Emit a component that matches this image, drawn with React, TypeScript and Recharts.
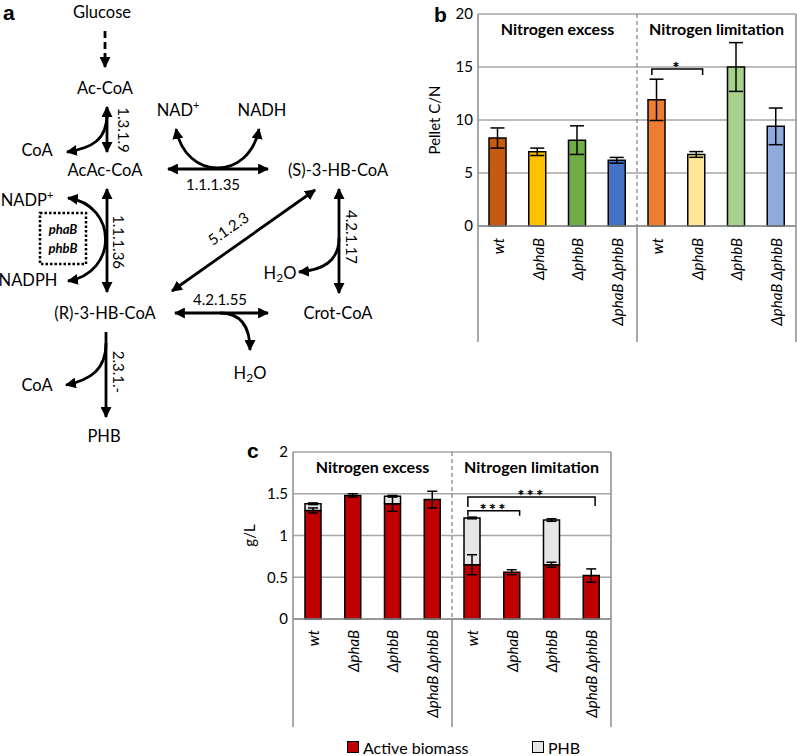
import React from 'react';
import { BarChart, Bar, XAxis, YAxis, CartesianGrid, ErrorBar, Cell, ReferenceLine, Legend } from 'recharts';

const FONT = 'Lato, "Liberation Sans", sans-serif';
const GRID = '#a6a6a6';
const AXIS = '#8c8c8c';

// ---- shared categories ----
const CATEGORY_KEYS = ['NE_wt', 'NE_phaB', 'NE_phbB', 'NE_dd', 'NL_wt', 'NL_phaB', 'NL_phbB', 'NL_dd'];
const STRAINS = ['wt', 'ΔphaB', 'ΔphbB', 'ΔphaB ΔphbB'];
const CATEGORY_LABELS = [...STRAINS, ...STRAINS];
const GROUP_NAMES = ['Nitrogen excess', 'Nitrogen limitation'];

// ---- panel b: pellet C/N ----
const CN_VALUES = [8.3, 7.0, 8.1, 6.2, 11.9, 6.75, 15.0, 9.4];
const CN_ERRORS = [0.95, 0.35, 1.35, 0.27, 1.95, 0.27, 2.3, 1.73];
const CN_COLORS = ['#C55A11', '#FFC000', '#70AD47', '#4472C4', '#ED7D31', '#FFE699', '#A9D18E', '#8FAADC'];
const CN_TICKS = [0, 5, 10, 15, 20];
const CN_BRACKET_Y = 14.8;

// ---- panel c: g/L ----
const ACTIVE_BIOMASS = [1.3, 1.48, 1.38, 1.43, 0.65, 0.56, 0.65, 0.52];
const ACTIVE_ERRORS = [0.03, 0.02, 0.09, 0.1, 0.12, 0.03, 0.03, 0.08];
const PHB = [0.08, 0, 0.09, 0, 0.56, 0, 0.535, 0];
const PHB_ERRORS = [0.01, 0, 0.01, 0, 0.01, 0, 0.015, 0];
const GL_TICKS = [0, 0.5, 1, 1.5, 2];
const SERIES_NAMES = ['Active biomass', 'PHB'];
const SERIES_COLORS = ['#C00000', '#E7E6E6'];
const GL_BRACKET_1_Y = 1.295;
const GL_BRACKET_2_Y = 1.46;

const cnData = CATEGORY_KEYS.map((key, i) => ({ key, cn: CN_VALUES[i], cnErr: CN_ERRORS[i] }));
const glData = CATEGORY_KEYS.map((key, i) => ({
  key,
  active: ACTIVE_BIOMASS[i],
  phb: PHB[i],
  activeErr: ACTIVE_ERRORS[i],
  phbErr: PHB_ERRORS[i],
}));

// ---- layout ----
const LB = { left: 400, top: 0, width: 397, height: 360, mt: 14, mr: 1, yw: 78, xh: 134, sep: 116, gap: 12 };
const LC = { left: 180, top: 430, width: 432, height: 326, mt: 22, mr: 1, yw: 113, xh: 119, lh: 18, sep: 108, gap: 11 };

const makeTick = (L: any, plotH: number) => {
  const band = (L.width - L.yw - L.mr) / CATEGORY_KEYS.length;
  return (props: any) => {
    const { x, y, payload } = props;
    const i = CATEGORY_KEYS.indexOf(payload.value);
    const label = CATEGORY_LABELS[i];
    return (
      <g>
        <text
          transform={`translate(${x},${y + L.gap}) rotate(-90)`}
          textAnchor="end"
          dominantBaseline="central"
          fontFamily={FONT}
          fontStyle="italic"
          fontSize={15}
          fill="#000"
        >
          {label}
        </text>
        {i === 0 || i === 4 ? (
          <line x1={x - band / 2} x2={x - band / 2} y1={y} y2={y + L.sep} stroke={AXIS} strokeWidth={1.5} />
        ) : null}
        {i === CATEGORY_KEYS.length - 1 ? (
          <line x1={x + band / 2} x2={x + band / 2} y1={y - plotH} y2={y + L.sep} stroke={AXIS} strokeWidth={1.5} />
        ) : null}
      </g>
    );
  };
};

const dividerShape = (p: any) => {
  const x = (p.x1 + p.x2) / 2;
  return <line x1={x} x2={x} y1={p.y1} y2={p.y2} stroke="#7f7f7f" strokeWidth={1.2} strokeDasharray="4 3" />;
};

const headerShape = (text: string) => (p: any) => (
  <text
    x={(p.x1 + p.x2) / 2}
    y={p.y1 + 14}
    textAnchor="middle"
    dominantBaseline="central"
    fontFamily={FONT}
    fontWeight="bold"
    fontSize={16}
    fill="#000"
  >
    {text}
  </text>
);

const bracketShape = (stars: string, extL: number, extR: number, dropL: number, dropR: number) => (p: any) => {
  const l = p.x1 - extL;
  const r = p.x2 + extR;
  const y = p.y1;
  return (
    <g>
      <polyline
        points={`${l},${y + dropL} ${l},${y} ${r},${y} ${r},${y + dropR}`}
        fill="none"
        stroke="#000"
        strokeWidth={1.5}
      />
      <text
        x={(l + r) / 2}
        y={y + 4}
        textAnchor="middle"
        fontFamily={FONT}
        fontSize={16}
        letterSpacing={2.5}
        fill="#000"
        stroke="#000"
        strokeWidth={0.4}
      >
        {stars}
      </text>
    </g>
  );
};

const PanelB = () => {
  const plotH = LB.height - LB.mt - LB.xh;
  return (
    <div style={{ position: 'absolute', left: LB.left, top: LB.top }}>
      <BarChart
        width={LB.width}
        height={LB.height}
        data={cnData}
        margin={{ top: LB.mt, right: LB.mr, bottom: 0, left: 0 }}
        barCategoryGap={0}
      >
        <CartesianGrid vertical={false} stroke={GRID} strokeWidth={1.3} />
        <XAxis
          dataKey="key"
          height={LB.xh}
          interval={0}
          tickLine={false}
          tickSize={0}
          tickMargin={0}
          axisLine={{ stroke: AXIS, strokeWidth: 1.5 }}
          tick={makeTick(LB, plotH)}
        />
        <YAxis
          width={LB.yw}
          domain={[0, 20]}
          ticks={CN_TICKS}
          tickLine={false}
          tickSize={0}
          tickMargin={5}
          axisLine={{ stroke: AXIS, strokeWidth: 1.5 }}
          tick={{ fill: '#000', fontSize: 15, fontFamily: FONT }}
          label={{ value: 'Pellet C/N', angle: -90, position: 'center', dx: -4, style: { fontFamily: FONT, fontSize: 15, fill: '#000' } }}
        />
        <Bar dataKey="cn" barSize={17} stroke="#000" strokeWidth={1.5} isAnimationActive={false}>
          {cnData.map((d, i) => (
            <Cell key={d.key} fill={CN_COLORS[i]} />
          ))}
          <ErrorBar dataKey="cnErr" width={7} stroke="#000" strokeWidth={1.5} direction="y" />
        </Bar>
        <ReferenceLine segment={[{ x: 'NE_dd', y: 20 }, { x: 'NL_wt', y: 0 }]} shape={dividerShape} />
        <ReferenceLine segment={[{ x: 'NE_wt', y: 20 }, { x: 'NE_dd', y: 20 }]} shape={headerShape(GROUP_NAMES[0])} />
        <ReferenceLine segment={[{ x: 'NL_wt', y: 20 }, { x: 'NL_dd', y: 20 }]} shape={headerShape(GROUP_NAMES[1])} />
        <ReferenceLine
          segment={[{ x: 'NL_wt', y: CN_BRACKET_Y }, { x: 'NL_phaB', y: CN_BRACKET_Y }]}
          shape={bracketShape('*', 5, 6, 6, 6)}
        />
      </BarChart>
    </div>
  );
};

const LegendContent = () => (
  <div
    style={{
      display: 'flex',
      alignItems: 'center',
      height: LC.lh,
      paddingLeft: 167,
      fontFamily: FONT,
      fontSize: 16,
      color: '#000',
    }}
  >
    {SERIES_NAMES.map((n, i) => (
      <div key={n} style={{ display: 'flex', alignItems: 'center', width: i === 0 ? 185 : undefined }}>
        <span
          style={{
            display: 'inline-block',
            width: 10,
            height: 10,
            background: SERIES_COLORS[i],
            border: '1px solid #000',
            marginRight: 4,
          }}
        />
        <span>{n}</span>
      </div>
    ))}
  </div>
);

const PanelC = () => {
  const plotH = LC.height - LC.mt - LC.xh - LC.lh;
  return (
    <div style={{ position: 'absolute', left: LC.left, top: LC.top }}>
      <BarChart
        width={LC.width}
        height={LC.height}
        data={glData}
        margin={{ top: LC.mt, right: LC.mr, bottom: 0, left: 0 }}
        barCategoryGap={0}
      >
        <CartesianGrid vertical={false} stroke={GRID} strokeWidth={1.3} />
        <XAxis
          dataKey="key"
          height={LC.xh}
          interval={0}
          tickLine={false}
          tickSize={0}
          tickMargin={0}
          axisLine={{ stroke: AXIS, strokeWidth: 1.5 }}
          tick={makeTick(LC, plotH)}
        />
        <YAxis
          width={LC.yw}
          domain={[0, 2]}
          ticks={GL_TICKS}
          tickLine={false}
          tickSize={0}
          tickMargin={5}
          axisLine={{ stroke: AXIS, strokeWidth: 1.5 }}
          tick={{ fill: '#000', fontSize: 15, fontFamily: FONT }}
          label={{ value: 'g/L', angle: -90, position: 'center', dx: 13.5, style: { fontFamily: FONT, fontSize: 15, fill: '#000' } }}
        />
        <Legend verticalAlign="bottom" height={LC.lh} content={() => <LegendContent />} />
        <Bar dataKey="active" name={SERIES_NAMES[0]} stackId="s" barSize={16} fill={SERIES_COLORS[0]} stroke="#000" strokeWidth={1.5} isAnimationActive={false}>
          <ErrorBar dataKey="activeErr" width={5} stroke="#000" strokeWidth={1.5} direction="y" />
        </Bar>
        <Bar dataKey="phb" name={SERIES_NAMES[1]} stackId="s" barSize={16} fill={SERIES_COLORS[1]} stroke="#000" strokeWidth={1.5} isAnimationActive={false}>
          <ErrorBar dataKey="phbErr" width={5} stroke="#000" strokeWidth={1.5} direction="y" />
        </Bar>
        <ReferenceLine segment={[{ x: 'NE_dd', y: 2 }, { x: 'NL_wt', y: 0 }]} shape={dividerShape} />
        <ReferenceLine segment={[{ x: 'NE_wt', y: 2 }, { x: 'NE_dd', y: 2 }]} shape={headerShape(GROUP_NAMES[0])} />
        <ReferenceLine segment={[{ x: 'NL_wt', y: 2 }, { x: 'NL_dd', y: 2 }]} shape={headerShape(GROUP_NAMES[1])} />
        <ReferenceLine
          segment={[{ x: 'NL_wt', y: GL_BRACKET_1_Y }, { x: 'NL_phaB', y: GL_BRACKET_1_Y }]}
          shape={bracketShape('***', 4, 8, 5, 5)}
        />
        <ReferenceLine
          segment={[{ x: 'NL_wt', y: GL_BRACKET_2_Y }, { x: 'NL_dd', y: GL_BRACKET_2_Y }]}
          shape={bracketShape('***', 4, 4, 10, 9)}
        />
      </BarChart>
    </div>
  );
};

const T = (props: any) => (
  <text textAnchor="middle" dominantBaseline="central" fontFamily={FONT} fill="#000" fontSize={16.5} {...props} />
);

const Diagram = () => {
  const sw = 2.8;
  const line = { stroke: '#000', strokeWidth: sw, fill: 'none' };
  return (
    <svg width={400} height={450} style={{ position: 'absolute', left: 0, top: 0 }}>
      <defs>
        <marker
          id="ah"
          viewBox="0 0 10 10"
          refX="9"
          refY="5"
          markerWidth="11"
          markerHeight="11"
          markerUnits="userSpaceOnUse"
          orient="auto-start-reverse"
        >
          <path d="M0,0 L10,5 L0,10 z" fill="#000" />
        </marker>
      </defs>
      <text x={3} y={20} fontFamily="'Liberation Sans', Arial, sans-serif" fontWeight="bold" fontSize={21} fill="#000">a</text>

      <T x={102} y={12}>Glucose</T>
      <line x1={105} y1={31} x2={105} y2={67} {...line} strokeDasharray="7 4" markerEnd="url(#ah)" />
      <T x={105} y={88}>Ac-CoA</T>

      <line x1={107} y1={107} x2={107} y2={152} {...line} markerStart="url(#ah)" markerEnd="url(#ah)" />
      <T x={124} y={130} fontSize={15} transform="rotate(90 124 130)">1.3.1.9</T>
      <path d="M107,114 C107,140 92,148 67,152" {...line} markerEnd="url(#ah)" />
      <T x={37} y={150}>CoA</T>

      <T x={105} y={170}>AcAc-CoA</T>
      <line x1={168} y1={169} x2={268} y2={169} {...line} markerStart="url(#ah)" markerEnd="url(#ah)" />
      <path d="M176,129 C186,181 249,181 259,129" {...line} markerStart="url(#ah)" markerEnd="url(#ah)" />
      <T x={178} y={110}>
        NAD<tspan dy={-6} fontSize={11}>+</tspan>
      </T>
      <T x={262} y={110}>NADH</T>
      <T x={213} y={184} fontSize={15}>1.1.1.35</T>
      <T x={338} y={170}>(S)-3-HB-CoA</T>

      <line x1={107} y1={189} x2={107} y2={292} {...line} markerStart="url(#ah)" markerEnd="url(#ah)" />
      <T x={119} y={242} fontSize={15} transform="rotate(90 119 242)">1.1.1.36</T>
      <path d="M68,198 C118,205 118,273 68,281" {...line} markerStart="url(#ah)" markerEnd="url(#ah)" />
      <T x={27} y={200}>
        NADP<tspan dy={-6} fontSize={11}>+</tspan>
      </T>
      <T x={28} y={280}>NADPH</T>
      <rect x={40} y={213} width={46} height={51} fill="none" stroke="#000" strokeWidth={2.5} strokeDasharray="2.5 2" />
      <T x={63} y={229} fontSize={13} fontWeight="bold" fontStyle="italic">phaB</T>
      <T x={63} y={248} fontSize={13} fontWeight="bold" fontStyle="italic">phbB</T>

      <line x1={315} y1={190} x2={172} y2={291} {...line} markerStart="url(#ah)" markerEnd="url(#ah)" />
      <T x={228} y={228} fontSize={15} transform="rotate(-35 228 228)">5.1.2.3</T>

      <line x1={339} y1={189} x2={339} y2={293} {...line} markerStart="url(#ah)" markerEnd="url(#ah)" />
      <T x={352} y={237} fontSize={15} transform="rotate(90 352 237)">4.2.1.17</T>
      <path d="M339,238 C339,262 322,270 299,272" {...line} markerEnd="url(#ah)" />
      <T x={280} y={273}>
        H<tspan dy={4} fontSize={12}>2</tspan>
        <tspan dy={-4}>O</tspan>
      </T>

      <T x={105} y={313}>(R)-3-HB-CoA</T>
      <line x1={175} y1={313} x2={268} y2={313} {...line} markerStart="url(#ah)" markerEnd="url(#ah)" />
      <T x={220} y={299} fontSize={15}>4.2.1.55</T>
      <path d="M220,313 C240,313 250,325 250,350" {...line} markerEnd="url(#ah)" />
      <T x={250} y={373}>
        H<tspan dy={4} fontSize={12}>2</tspan>
        <tspan dy={-4}>O</tspan>
      </T>
      <T x={338} y={313}>Crot-CoA</T>

      <line x1={106} y1={332} x2={106} y2={417} {...line} markerEnd="url(#ah)" />
      <T x={119} y={372} fontSize={15} transform="rotate(90 119 372)">2.3.1.-</T>
      <path d="M106,343 C106,370 90,380 66,385" {...line} markerEnd="url(#ah)" />
      <T x={37} y={385}>CoA</T>
      <T x={104} y={436}>PHB</T>
    </svg>
  );
};

const PanelLetter = ({ x, y, ch }: { x: number; y: number; ch: string }) => (
  <div
    style={{
      position: 'absolute',
      left: x,
      top: y,
      fontFamily: "'Liberation Sans', Arial, sans-serif",
      fontWeight: 'bold',
      fontSize: 21,
      lineHeight: '21px',
      color: '#000',
    }}
  >
    {ch}
  </div>
);

export default function App() {
  return (
    <div style={{ position: 'absolute', left: 0, top: 0, width: 797, height: 756, background: '#fff', overflow: 'hidden' }}>
      <Diagram />
      <PanelB />
      <PanelC />
      <PanelLetter x={434} y={4} ch="b" />
      <PanelLetter x={247} y={440} ch="c" />
    </div>
  );
}
